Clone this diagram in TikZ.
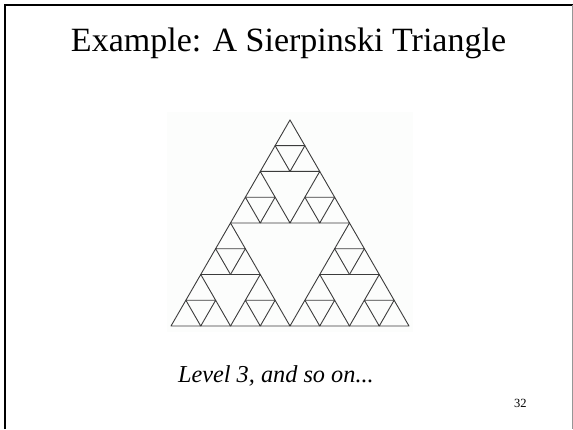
\documentclass[tikz,border=0pt]{standalone}
\usepackage{fontspec}
\setmainfont{Liberation Serif}
\definecolor{trigray}{RGB}{60,60,60}
\definecolor{edgegray}{RGB}{150,150,150}
\definecolor{picbg}{RGB}{252,253,252}
\begin{document}
\begin{tikzpicture}[x=1pt,y=-1pt,
  tri/.style={draw=trigray, line width=0.9pt, line join=round},
  frame/.style={draw=black, line width=2pt},
  txt/.style={inner sep=0pt, outer sep=0pt}]
\useasboundingbox (0,0) rectangle (573,429);
\fill[white] (0,0) rectangle (573,429);
% frame
\draw[frame] (5,429) -- (5,5) -- (573,5);
\draw[draw=edgegray, line width=0.8pt] (572,5) -- (572,429);
% faint picture background
\fill[picbg] (167,112) rectangle (413,332);
% Sierpinski triangle, level 3
\def\u{29.75}
\def\v{25.76}
\foreach \ax/\ay in {0/0,4/0,2/4}{
  \foreach \bx/\by in {0/0,2/0,1/2}{
    \foreach \cx/\cy in {0/0,1/0,0.5/1}{
      \pgfmathsetmacro{\px}{171+(\ax+\bx+\cx)*\u}
      \pgfmathsetmacro{\py}{326-(\ay+\by+\cy)*\v}
      \draw[tri] (\px,\py) -- ++(\u,0) -- ++(-0.5*\u,-\v) -- cycle;
    }
  }
}
% texts
\node[txt, anchor=base, font=\fontsize{34}{40}\selectfont] (title) at (288.5,51) {Example: A Sierpinski Triangle};
\node[txt, anchor=base west, font=\fontsize{24.3}{29}\selectfont\itshape] (cap) at (178,382) {Level 3, and so on...};
\node[txt, anchor=base west, font=\fontsize{12.5}{15}\selectfont] (num) at (514,407) {32};
\end{tikzpicture}
\end{document}
